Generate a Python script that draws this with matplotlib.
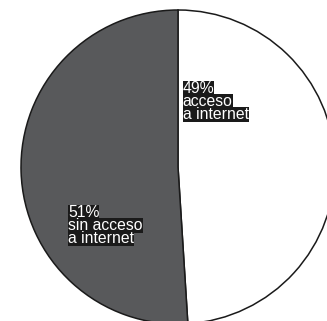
import matplotlib
matplotlib.use("Agg")
import matplotlib.pyplot as plt

plt.rcParams['font.family'] = ['Liberation Sans', 'DejaVu Sans']

# datos
labels = ["acceso\na internet", "sin acceso\na internet"]
shares = [49, 51]
colors = ["#ffffff", "#58595b"]

fig = plt.figure(figsize=(3.27, 3.21), dpi=100)
# pie centre ~ (178,167) px, radius ~157 px
ax = fig.add_axes([21/327, (321-324)/321, 314/327, 314/321])
wedges, _ = ax.pie(shares, colors=colors, startangle=90, counterclock=False,
                   radius=1.0, center=(0, 0),
                   wedgeprops=dict(edgecolor="#1a1a1a", linewidth=1.1))
ax.set_xlim(-1, 1)
ax.set_ylim(-1, 1)
ax.set_aspect("equal")
ax.axis("off")

# label anchors (top-left of text block) in data units
anchors = [(0.03, 0.55), (-0.70, -0.245)]
step = 13 / 157
for (x0, y0), pct, lab in zip(anchors, shares, labels):
    lines = [f"{pct}%"] + lab.split("\n")
    for i, ln in enumerate(lines):
        ax.text(x0, y0 - i * step, ln, ha="left", va="top", fontsize=11.3,
                color="white", linespacing=1.0,
                bbox=dict(facecolor="#1a1a1a", edgecolor="none", pad=0.0))

fig.savefig("out.png", dpi=100)
